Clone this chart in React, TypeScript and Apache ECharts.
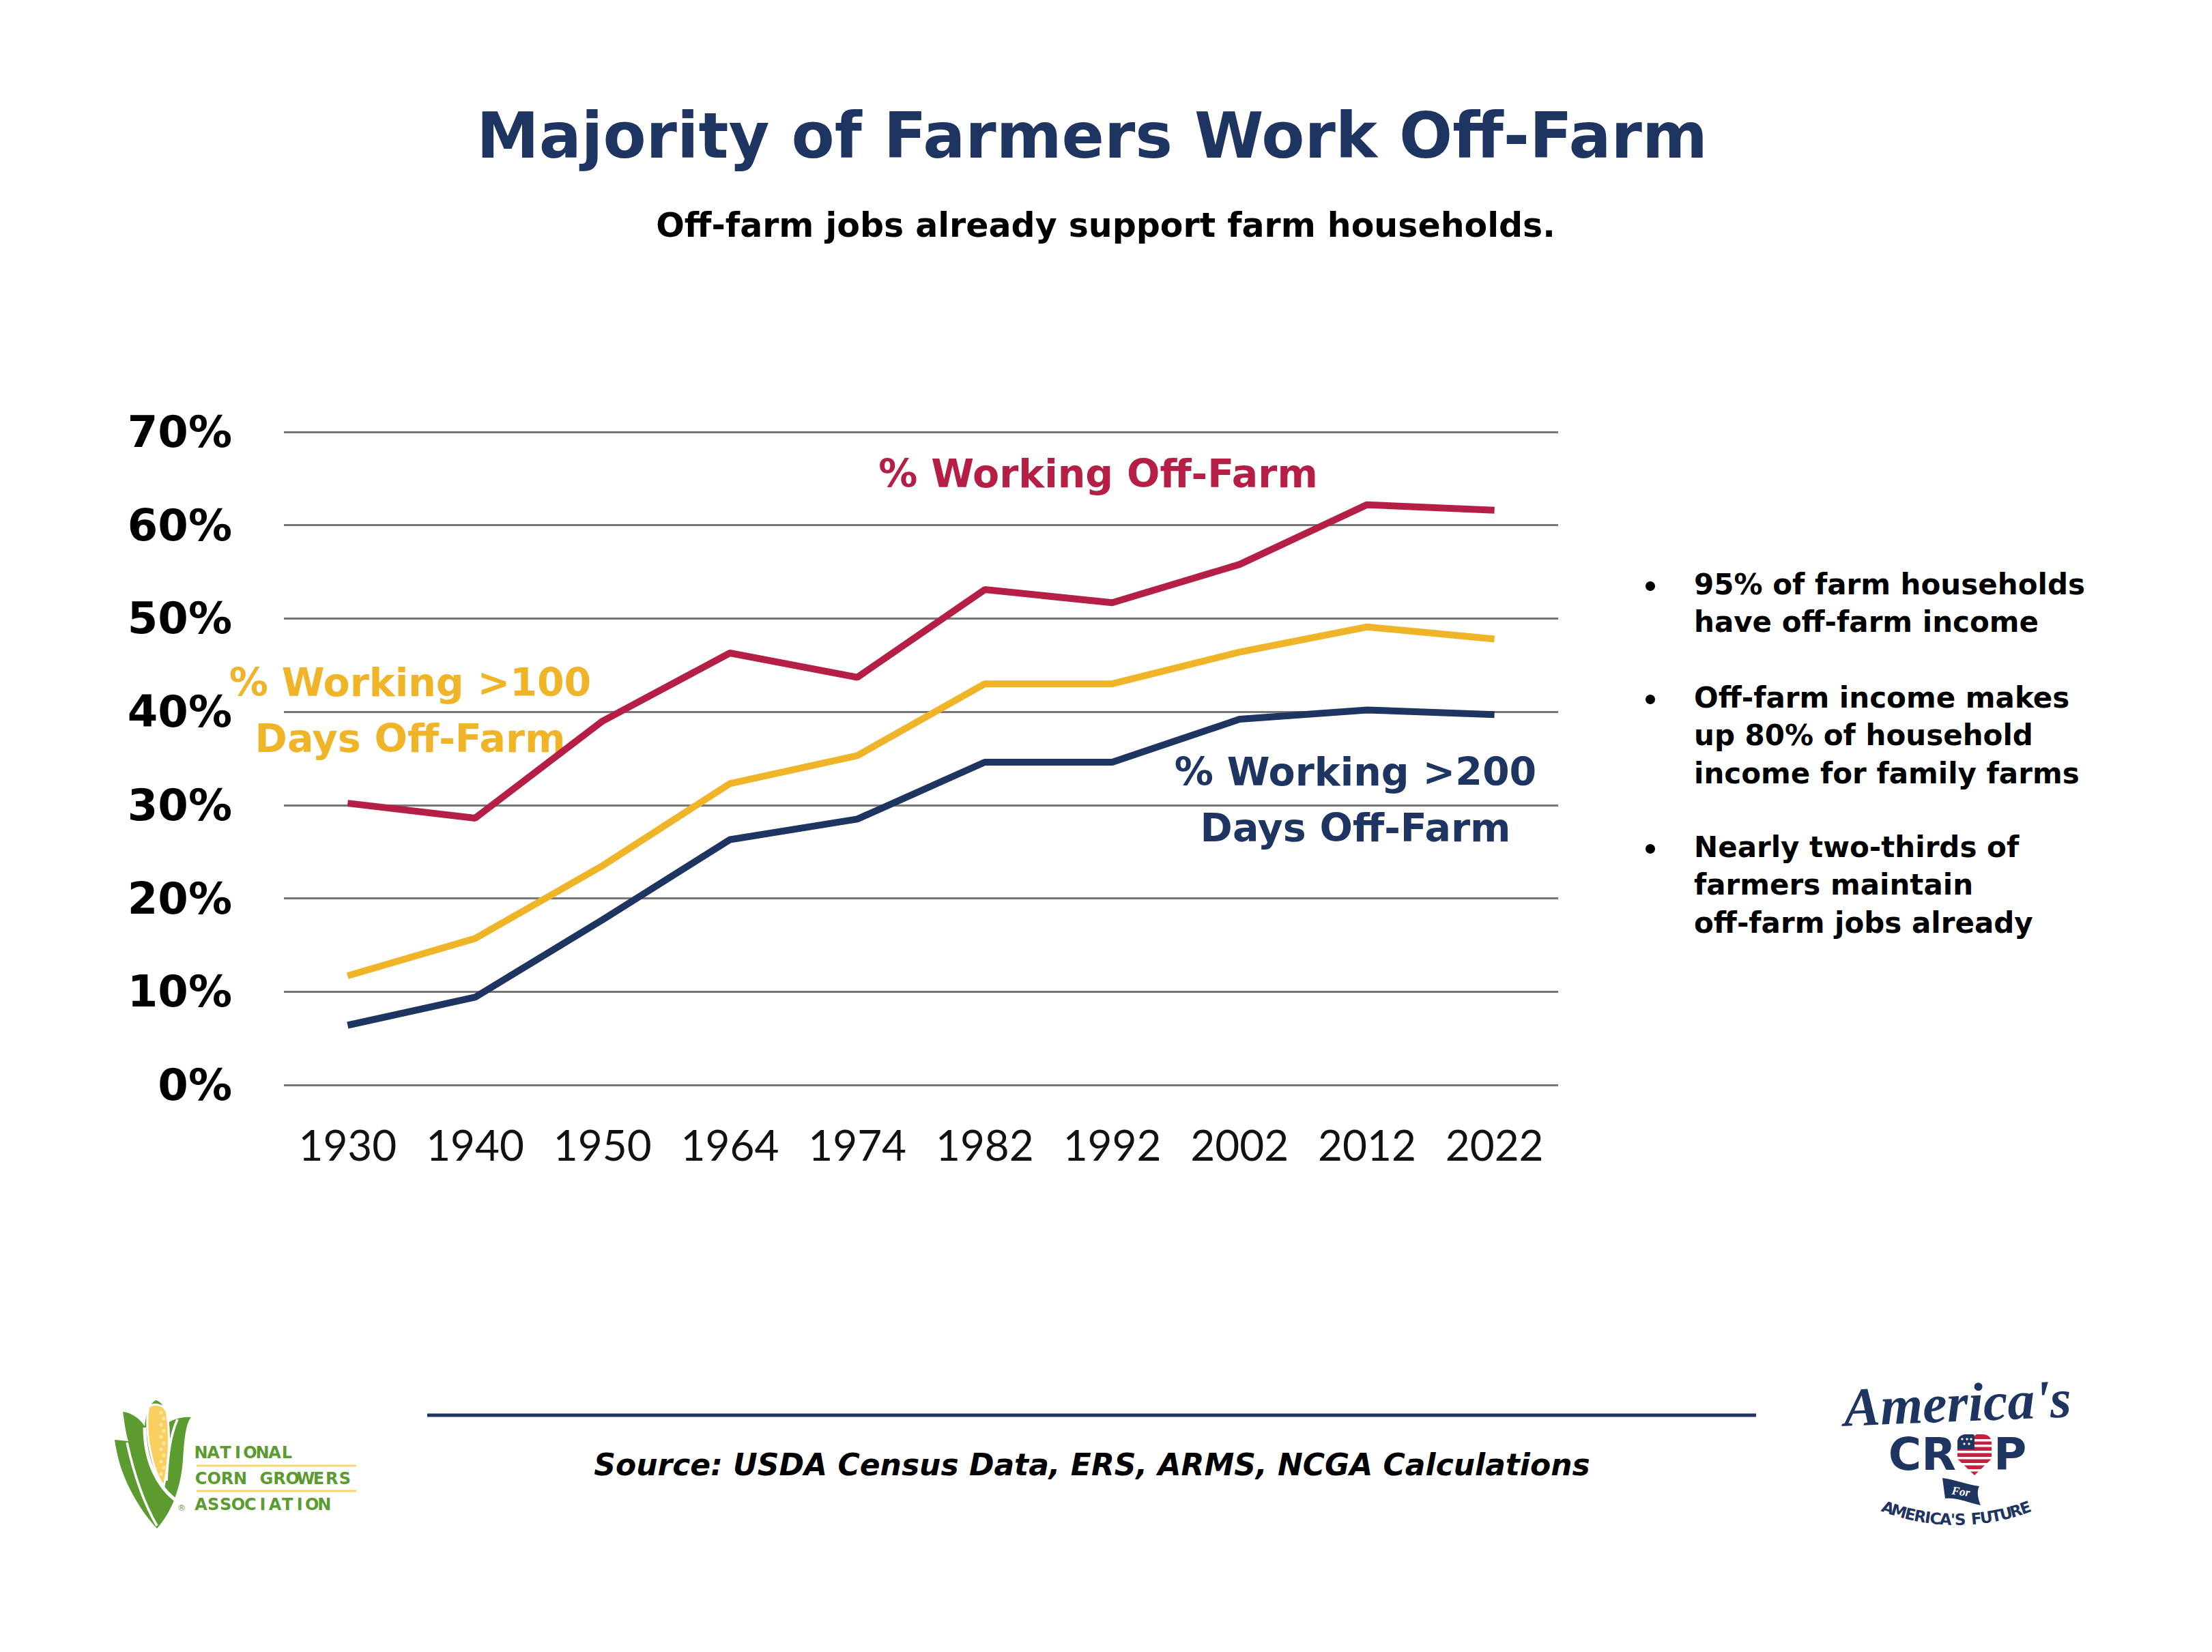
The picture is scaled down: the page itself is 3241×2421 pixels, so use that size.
import React, { useEffect, useRef } from "react";
import * as echarts from "echarts";

const W = 3241;
const H = 2421;

// ---- data ----
const years = ["1930", "1940", "1950", "1964", "1974", "1982", "1992", "2002", "2012", "2022"];
const workingOffFarm = [30.2, 28.6, 39.0, 46.3, 43.7, 53.1, 51.7, 55.8, 62.2, 61.6];
const working100Days = [11.7, 15.7, 23.5, 32.3, 35.3, 43.0, 43.0, 46.4, 49.1, 47.8];
const working200Days = [6.4, 9.4, 17.7, 26.3, 28.5, 34.6, 34.6, 39.2, 40.2, 39.7];
const yMin = 0;
const yMax = 70;
const yStep = 10;

const titleText = "Majority of Farmers Work Off-Farm";
const subtitleText = "Off-farm jobs already support farm households.";
const sourceText = "Source: USDA Census Data, ERS, ARMS, NCGA Calculations";
const labelOffFarm = ["% Working Off-Farm"];
const label100 = ["% Working >100", "Days Off-Farm"];
const label200 = ["% Working >200", "Days Off-Farm"];
const bullets = [
  ["95% of farm households", "have off-farm income"],
  ["Off-farm income makes", "up 80% of household", "income for family farms"],
  ["Nearly two-thirds of", "farmers maintain", "off-farm jobs already"],
];
const ncgaLines = ["NATIONAL", "CORN GROWERS", "ASSOCIATION"];
const cropArcText = "AMERICA'S FUTURE";

// ---- colours ----
const RED = "#b51f45";
const YELLOW = "#f0b428";
const NAVY = "#1f3561";
const GREEN = "#5b9b30";

// ---- logo shapes ----
echarts.graphic.registerShape(
  "ncgaHusk",
  echarts.graphic.extendPath(
    "M28,80 L48,82 C44,70 42,52 40,39 C52,40 64,48 72,60 C74,40 80,26 88,22 C98,24 104,38 106,55 C114,50 126,46 140,47 C132,56 130,80 128,110 C125,150 112,185 90,210 C62,180 42,140 34,110 C31,98 29,88 28,80 Z",
    {}
  )
);
echarts.graphic.registerShape(
  "ncgaCob",
  echarts.graphic.extendPath(
    "M78,32 C84,26 98,27 104,38 C110,70 108,115 100,148 C90,135 82,110 78,85 C75,62 75,44 78,32 Z",
    {}
  )
);
echarts.graphic.registerShape(
  "ncgaLine1",
  echarts.graphic.extendPath("M46,84 C54,120 66,165 90,206", {})
);
echarts.graphic.registerShape(
  "ncgaLine2",
  echarts.graphic.extendPath("M72,62 C72,110 90,150 122,172", {})
);
echarts.graphic.registerShape(
  "ncgaLine3",
  echarts.graphic.extendPath("M120,50 C110,72 106,100 104,140", {})
);
echarts.graphic.registerShape(
  "cropHeart",
  echarts.graphic.extendPath(
    "M0,12 C0,4 6,0 13,0 L22,0 C24,0 25,2 25,3 C25,2 27,0 29,0 L37,0 C44,0 50,4 50,12 L50,36 L25,60 L0,36 Z",
    {}
  )
);
echarts.graphic.registerShape(
  "cropCanton",
  echarts.graphic.extendPath("M0,12 C0,4 6,0 13,0 L22,0 C24,0 25,2 25,3 L25,22 L0,22 Z", {})
);
echarts.graphic.registerShape(
  "cropPennant",
  echarts.graphic.extendPath(
    "M0,0 C18,2 36,10 54,12 C50,20 52,30 56,40 C38,36 20,28 4,30 Z",
    {}
  )
);

function txt(
  text: string,
  x: number,
  y: number,
  size: number,
  fill: string,
  opts: any = {}
) {
  return {
    type: "text",
    x,
    y,
    rotation: opts.rotation || 0,
    style: {
      text,
      fill,
      fontSize: size,
      fontFamily: opts.family || "DejaVu Sans",
      fontWeight: opts.weight || "bold",
      fontStyle: opts.style || "normal",
      textAlign: opts.align || "center",
      textVerticalAlign: "middle",
    },
  };
}

function spacedText(str: string, x0: number, x1: number, yc: number, size: number, fill: string) {
  const n = str.length;
  const cw = size * 0.55;
  const step = (x1 - x0 - cw) / (n - 1);
  const out: any[] = [];
  for (let i = 0; i < n; i++) {
    const ch = str[i];
    if (ch === " ") continue;
    out.push(
      txt(ch, x0 + cw / 2 + i * step, yc, size, fill, {
        family: "Liberation Sans Narrow, DejaVu Sans",
      })
    );
  }
  return out;
}

function charWeight(ch: string) {
  if (ch === "'") return 0.45;
  if (ch === " ") return 0.6;
  if (ch === "I") return 0.55;
  if (ch === "M") return 1.3;
  return 1;
}

function buildGraphic() {
  const g: any[] = [];
  // title + subtitle
  g.push(txt(titleText, 1600, 199, 92, NAVY));
  g.push(txt(subtitleText, 1620, 330, 49, "#000"));

  // series annotations
  g.push(txt(labelOffFarm[0], 1609, 694, 57, RED));
  label100.forEach((t, i) => g.push(txt(t, 601, 1000 + i * 82, 57, YELLOW)));
  label200.forEach((t, i) => g.push(txt(t, 1986, 1131 + i * 82, 57, NAVY)));

  // bullets
  const blockTops = [856, 1022, 1241];
  bullets.forEach((lines, b) => {
    g.push({
      type: "circle",
      shape: { cx: 2418, cy: blockTops[b] + 3, r: 7 },
      style: { fill: "#000" },
    });
    lines.forEach((t, i) =>
      g.push(txt(t, 2482, blockTops[b] + i * 55.5, 42, "#000", { align: "left" }))
    );
  });

  // footer line + source
  g.push({
    type: "line",
    shape: { x1: 626, y1: 2074, x2: 2573, y2: 2074 },
    style: { stroke: NAVY, lineWidth: 5 },
  });
  g.push(txt(sourceText, 1600, 2146, 44, "#000", { style: "italic" }));

  // NCGA logo
  g.push({ type: "ncgaHusk", x: 140, y: 2030, style: { fill: GREEN } });
  g.push({
    type: "ncgaCob",
    x: 140,
    y: 2030,
    style: { fill: "#f9cf5f", stroke: "#fff", lineWidth: 3 },
  });
  for (let k = 0; k < 11; k++) {
    g.push({
      type: "circle",
      shape: { cx: 140 + 96 + (k % 2) * 4, cy: 2030 + 40 + k * 9, r: 2.6 },
      style: { fill: "#fde9b0" },
    });
  }
  ["ncgaLine1", "ncgaLine2", "ncgaLine3"].forEach((t, i) =>
    g.push({
      type: t,
      x: 140,
      y: 2030,
      style: { fill: "none", stroke: "#fff", lineWidth: i === 1 ? 5 : 3.5 },
    })
  );
  g.push(txt("®", 266, 2210, 12, GREEN, { weight: "normal" }));
  const ncgaX = [[288, 427], [288, 512], [288, 482]];
  const ncgaY = [2129, 2167, 2205];
  ncgaLines.forEach((s, i) => g.push(...spacedText(s, ncgaX[i][0], ncgaX[i][1], ncgaY[i], 24, GREEN)));
  [2148, 2185].forEach((y) =>
    g.push({
      type: "line",
      shape: { x1: 288, y1: y, x2: 522, y2: y },
      style: { stroke: "#f8d56b", lineWidth: 3 },
    })
  );

  // America's Crop logo
  g.push(
    txt("America's", 2868, 2056, 80, NAVY, {
      family: "Liberation Serif",
      style: "italic",
      rotation: 0.04,
    })
  );
  g.push(txt("CR", 2866, 2131, 66, NAVY, { align: "right" }));
  g.push(txt("P", 2921, 2131, 66, NAVY, { align: "left" }));
  g.push({ type: "cropHeart", x: 2868, y: 2102, style: { fill: "#c4213e" } });
  const stripes = [
    [25, 50, 7],
    [25, 50, 15],
    [0, 50, 24],
    [0, 50, 33],
    [6, 44, 42],
    [15, 35, 51],
  ];
  stripes.forEach(([a, b, y]) =>
    g.push({
      type: "rect",
      shape: { x: 2868 + a, y: 2102 + y, width: b - a, height: 3.5 },
      style: { fill: "#fff" },
    })
  );
  g.push({ type: "cropCanton", x: 2868, y: 2102, style: { fill: NAVY } });
  [[7, 7], [14, 7], [20, 7], [10, 14], [17, 14]].forEach(([cx, cy]) =>
    g.push({
      type: "circle",
      shape: { cx: 2868 + cx, cy: 2102 + cy, r: 1.6 },
      style: { fill: "#fff" },
    })
  );
  g.push({ type: "cropPennant", x: 2846, y: 2166, style: { fill: NAVY } });
  g.push(
    txt("For", 2873, 2186, 17, "#fff", {
      family: "Liberation Serif",
      style: "italic",
      rotation: -0.12,
    })
  );
  // arched "AMERICA'S FUTURE"
  const chars = cropArcText.split("");
  const weights = chars.map(charWeight);
  const total = weights.reduce((a, b) => a + b, 0);
  const cx = 2867;
  const cy = 1927;
  const R = 300;
  const span = (21 * Math.PI) / 180;
  let acc = 0;
  chars.forEach((ch, i) => {
    const mid = acc + weights[i] / 2;
    acc += weights[i];
    if (ch === " ") return;
    const phi = -span + (2 * span * mid) / total;
    g.push(
      txt(ch, cx + R * Math.sin(phi), cy + R * Math.cos(phi), 23, NAVY, { rotation: phi })
    );
  });
  return g;
}

function buildOption() {
  const lineSeries = (name: string, data: number[], color: string) => ({
    name,
    type: "line",
    data,
    symbol: "none",
    lineStyle: { color, width: 10 },
    itemStyle: { color },
    z: 3,
  });
  return {
    animation: false,
    backgroundColor: "#ffffff",
    grid: { left: 416, top: 633, width: 1867, height: 957, containLabel: false, outerBoundsMode: "none" },
    xAxis: {
      type: "category",
      data: years,
      boundaryGap: true,
      axisLine: { show: false },
      axisTick: { show: false },
      splitLine: { show: false },
      axisLabel: {
        interval: 0,
        margin: 56,
        fontSize: 62,
        fontFamily: "Lato",
        fontWeight: "normal",
        color: "#111",
      },
    },
    yAxis: {
      type: "value",
      min: yMin,
      max: yMax,
      interval: yStep,
      axisLine: { show: false },
      axisTick: { show: false },
      splitLine: { lineStyle: { color: "#767676", width: 3 } },
      axisLabel: {
        formatter: "{value}%",
        margin: 76,
        fontSize: 64,
        fontFamily: "DejaVu Sans",
        fontWeight: "bold",
        color: "#000",
      },
    },
    series: [
      lineSeries("% Working Off-Farm", workingOffFarm, RED),
      lineSeries("% Working >100 Days Off-Farm", working100Days, YELLOW),
      lineSeries("% Working >200 Days Off-Farm", working200Days, NAVY),
    ],
    graphic: { elements: buildGraphic() },
  };
}

export default function App() {
  const ref = useRef<HTMLDivElement>(null);
  useEffect(() => {
    document.body.style.margin = "0";
    const chart = echarts.init(ref.current as HTMLDivElement, null, {
      renderer: "svg",
      width: W,
      height: H,
    });
    chart.setOption(buildOption() as any);
    return () => chart.dispose();
  }, []);
  return <div ref={ref} style={{ width: W, height: H, background: "#fff" }} />;
}
